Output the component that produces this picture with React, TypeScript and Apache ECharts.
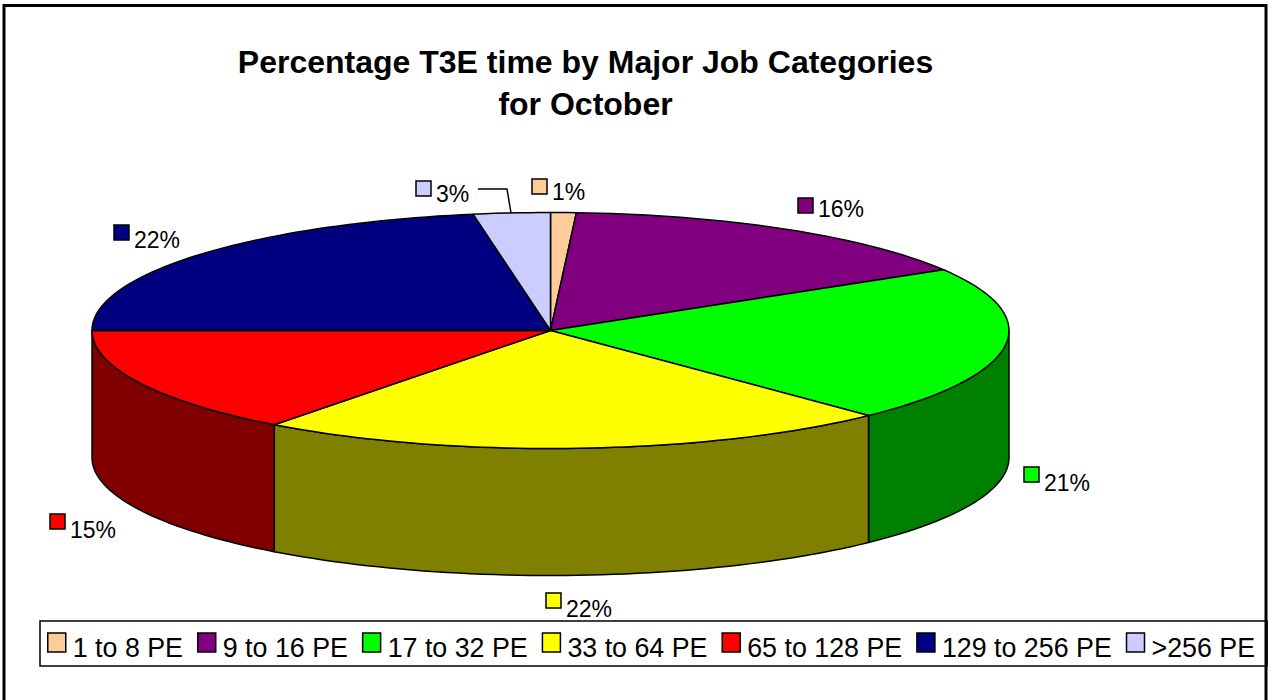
import React, { useEffect, useRef } from "react";
import * as echarts from "echarts";

const categories = ["1 to 8 PE", "9 to 16 PE", "17 to 32 PE", "33 to 64 PE", "65 to 128 PE", "129 to 256 PE", ">256 PE"];
const shares = [0.9, 15.5, 21.4, 22.49, 14.71, 22.3, 2.7];
const topColors = ["#FFCC99", "#800080", "#00FF00", "#FFFF00", "#FF0000", "#000080", "#CCCCFF"];
const sideColors = ["#806633", "#400040", "#008000", "#808000", "#800000", "#000040", "#666680"];
const titleLines = ["Percentage T3E time by Major Job Categories", "for October"];

const FONT = '"Liberation Sans", Arial, sans-serif';
const CX = 550.5, CY = 330.5, RX = 458.5, RY = 118, DEPTH = 127;
// Callout spots: swatch's top-left corner and the label's vertical offset from it
const calloutSpots = [[532, 179, 13], [798, 198, 11], [1024, 467, 16], [546, 593, 16], [50, 514, 16], [114, 225, 15], [416, 181, 13]];

const total = shares.reduce((a, b) => a + b, 0);
const pt = (deg: number, dy = 0) => {
  const r = (deg * Math.PI) / 180;
  return [CX + RX * Math.sin(r), CY - RY * Math.cos(r) + dy];
};
const arcPts = (a: number, b: number, dy = 0) => {
  const n = Math.max(2, Math.ceil(Math.abs(b - a) / 1.5));
  const out: number[][] = [];
  for (let i = 0; i <= n; i++) out.push(pt(a + ((b - a) * i) / n, dy));
  return out;
};
const stroke = { stroke: "#000", lineWidth: 1.5, lineJoin: "round" };

const makeRender = (idx: number) => (_params: any, api: any) => {
  const before = shares.slice(0, idx).reduce((a, b) => a + b, 0);
  const a0 = (before / total) * 360;
  const a1 = a0 + (api.value(0) / total) * 360;
  const children: any[] = [];
  const s0 = Math.max(a0, 90), s1 = Math.min(a1, 270);
  if (s1 > s0) {
    const top = arcPts(s0, s1);
    const bottom = arcPts(s1, s0, DEPTH);
    children.push({ type: "polygon", shape: { points: [...top, ...bottom] }, style: { fill: sideColors[idx], ...stroke } });
  }
  children.push({
    type: "polygon",
    shape: { points: [[CX, CY], ...arcPts(a0, a1)] },
    style: { fill: topColors[idx], ...stroke },
  });
  const [sx, sy, tdy] = calloutSpots[idx];
  children.push({
    type: "rect",
    shape: { x: sx, y: sy, width: 15, height: 15 },
    style: { fill: topColors[idx], stroke: "#000", lineWidth: 1.5 },
    z2: 5,
  });
  children.push({
    type: "text",
    x: sx + 20,
    y: sy + tdy,
    style: {
      text: `${Math.round(api.value(0))}%`,
      font: `23px ${FONT}`,
      fill: "#000",
      verticalAlign: "middle",
      align: "left",
    },
    z2: 5,
  });
  if (idx === 6) {
    children.push({
      type: "polyline",
      shape: { points: [[478, 189], [507, 189], [511, 213]] },
      style: { fill: "none", stroke: "#000", lineWidth: 1.5 },
      z2: 5,
    });
  }
  return { type: "group", children };
};

export default function App() {
  const ref = useRef<HTMLDivElement>(null);
  useEffect(() => {
    document.body.style.margin = "0";
    const chart = echarts.init(ref.current!, null, { renderer: "svg" });
    chart.setOption({
      animation: false,
      backgroundColor: "#fff",
      title: {
        text: titleLines.join("\n"),
        left: 580.5,
        top: 36,
        textAlign: "center",
        textStyle: { fontFamily: FONT, fontSize: 32, fontWeight: "bold", color: "#000", lineHeight: 42 },
      },
      legend: {
        left: 40,
        top: 621,
        orient: "horizontal",
        data: categories.map((name) => ({ name, icon: "rect" })),
        itemWidth: 18,
        itemHeight: 19,
        itemGap: 14,
        padding: [2.5, 12, 4.5, 7],
        borderColor: "#000",
        borderWidth: 1.5,
        selectedMode: false,
        itemStyle: { borderColor: "#000", borderWidth: 1.5 },
        formatter: "{a|{name}}",
        textStyle: {
          fontFamily: FONT,
          fontSize: 26.8,
          color: "#000",
          rich: { a: { fontFamily: FONT, fontSize: 26.8, color: "#000", lineHeight: 31, padding: [11, 0, 0, 2] } },
        },
      },
      graphic: [
        {
          type: "polyline",
          z: 10,
          shape: { points: [[4, 700], [4, 5.5], [1266, 5.5], [1266, 700]] },
          style: { fill: "none", stroke: "#000", lineWidth: 3 },
        },
      ],
      series: categories.map((name, i) => ({
        type: "custom",
        name,
        coordinateSystem: "none",
        itemStyle: { color: topColors[i] },
        data: [[shares[i]]],
        renderItem: makeRender(i),
      })),
    });
    return () => chart.dispose();
  }, []);
  return <div ref={ref} style={{ width: 1271, height: 700 }} />;
}
